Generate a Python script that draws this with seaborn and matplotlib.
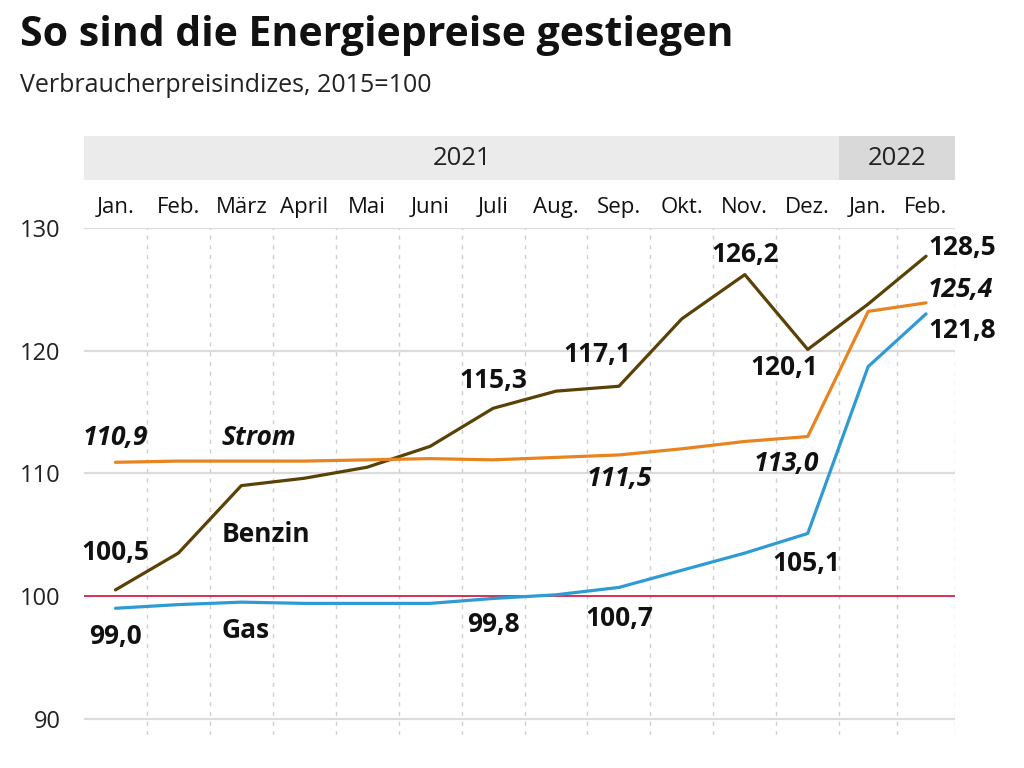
import numpy as np
import pandas as pd
import matplotlib
matplotlib.use("Agg")
import matplotlib.pyplot as plt
import matplotlib.patches as mpatches
import seaborn as sns

# Monatswerte (Verbraucherpreisindizes, 2015=100)
months = ["Jan.", "Feb.", "März", "April", "Mai", "Juni", "Juli",
          "Aug.", "Sep.", "Okt.", "Nov.", "Dez.", "Jan.", "Feb."]
benzin = [100.5, 103.5, 109.0, 109.6, 110.5, 112.2, 115.3,
          116.7, 117.1, 122.6, 126.2, 120.1, 123.8, 127.7]
strom = [110.9, 111.0, 111.0, 111.0, 111.1, 111.2, 111.1,
         111.3, 111.5, 112.0, 112.6, 113.0, 123.2, 123.9]
gas = [99.0, 99.3, 99.5, 99.4, 99.4, 99.4, 99.8,
       100.1, 100.7, 102.1, 103.5, 105.1, 118.7, 123.0]
years = ["2021", "2022"]
year_months = [12, 2]
yticks = [90, 100, 110, 120, 130]

# Spaltenbreite je Jahr (2022 etwas schmaler gesetzt)
cell_width = [1.0, 0.92]

# (Serie, Monatsindex, Text, dx, dy, ha, kursiv)
value_labels = [
    ("Strom", 0, "110,9", 0, 25, "center", True),
    ("Benzin", 0, "100,5", 0, 37, "center", False),
    ("Gas", 0, "99,0", 0, -28, "center", False),
    ("Benzin", 6, "115,3", 0, 28, "center", False),
    ("Benzin", 8, "117,1", -22, 32, "center", False),
    ("Benzin", 10, "126,2", 0, 20, "center", False),
    ("Benzin", 11, "120,1", -23, -18, "center", False),
    ("Benzin", 13, "128,5", 2, 9, "left", False),
    ("Strom", 13, "125,4", 2, 13, "left", True),
    ("Gas", 13, "121,8", 2, -17, "left", False),
    ("Strom", 8, "111,5", 0, -24, "center", True),
    ("Strom", 11, "113,0", -21, -27, "center", True),
    ("Gas", 11, "105,1", -1, -30, "center", False),
    ("Gas", 8, "100,7", 0, -31, "center", False),
    ("Gas", 6, "99,8", 0, -26, "center", False),
]
# Serienname neben dem ersten Punkt
name_labels = [
    ("Strom", "Strom", 106, 25, True),
    ("Benzin", "Benzin", 106, 55, False),
    ("Gas", "Gas", 106, -22, False),
]

colors = {"Benzin": "#5a4106", "Strom": "#e8841f", "Gas": "#2f9bd4"}

# Spaltengrenzen und -mitten
widths = np.repeat(cell_width, year_months)
edges = np.concatenate([[0], np.cumsum(widths)])
centers = (edges[:-1] + edges[1:]) / 2

series = {"Benzin": benzin, "Strom": strom, "Gas": gas}
rows = []
for name, vals in series.items():
    for i, v in enumerate(vals):
        rows.append({"pos": centers[i], "wert": v, "serie": name})
df = pd.DataFrame(rows)

sns.set_style("white")
plt.rcParams["font.family"] = ["Open Sans", "DejaVu Sans"]

fig = plt.figure(figsize=(10.24, 7.68), dpi=100)
ax = fig.add_axes([84 / 1024, 33 / 768, 871 / 1024, 507 / 768])

# Gitter
for y in yticks:
    if y == 100:
        continue
    ax.axhline(y, color="#dcdcdc", lw=1.6, zorder=0)
for e in edges[1:]:
    ax.axvline(e, color="#cfcfcf", lw=1.0, ls=(0, (3, 4)), zorder=0)
ax.axhline(100, color="#d3214a", lw=1.3, zorder=1)

sns.lineplot(data=df, x="pos", y="wert", hue="serie", palette=colors,
             lw=2.3, ax=ax, legend=False, zorder=3)

ax.set_xlim(edges[0], edges[-1])
ax.set_ylim(88.67, 130)
ax.set_yticks(yticks)
ax.set_yticklabels([str(t) for t in yticks], fontsize=17)
ax.set_xticks(centers)
ax.set_xticklabels(months, fontsize=16)
ax.xaxis.tick_top()
ax.tick_params(axis="x", length=0, pad=7, labelcolor="#111111")
ax.tick_params(axis="y", length=0, pad=17, labelcolor="#222222")
ax.set_xlabel("")
ax.set_ylabel("")
for s in ax.spines.values():
    s.set_visible(False)

# Jahresbänder oberhalb der Monatsnamen
trans = ax.get_xaxis_transform()
band_colors = ["#ebebeb", "#d9d9d9"]
k = 0
for yr, n, bc in zip(years, year_months, band_colors):
    x0, x1 = edges[k], edges[k + n]
    ax.add_patch(mpatches.Rectangle((x0, 1.0947), x1 - x0, 0.0868, transform=trans,
                                    facecolor=bc, edgecolor="none", clip_on=False))
    ax.text((x0 + x1) / 2, 1.138, yr, transform=trans, ha="center", va="center",
            fontsize=18.5, color="#222222")
    k += n

for name, i, txt, dx, dy, ha, it in value_labels:
    ax.annotate(txt, (centers[i], series[name][i]), xytext=(dx, dy),
                textcoords="offset pixels", ha=ha, va="center", fontsize=19,
                fontweight="bold", style="italic" if it else "normal", color="#111111")
for name, txt, dx, dy, it in name_labels:
    ax.annotate(txt, (centers[0], series[name][0]), xytext=(dx, dy),
                textcoords="offset pixels", ha="left", va="center", fontsize=19,
                fontweight="bold", style="italic" if it else "normal", color="#111111")

fig.text(20 / 1024, 1 - 36 / 768, "So sind die Energiepreise gestiegen",
         fontsize=29.5, fontweight="bold", va="center", ha="left", color="#111111")
fig.text(20 / 1024, 1 - 86 / 768, "Verbraucherpreisindizes, 2015=100",
         fontsize=18, va="center", ha="left", color="#222222")

fig.savefig("out.png", dpi=100)
